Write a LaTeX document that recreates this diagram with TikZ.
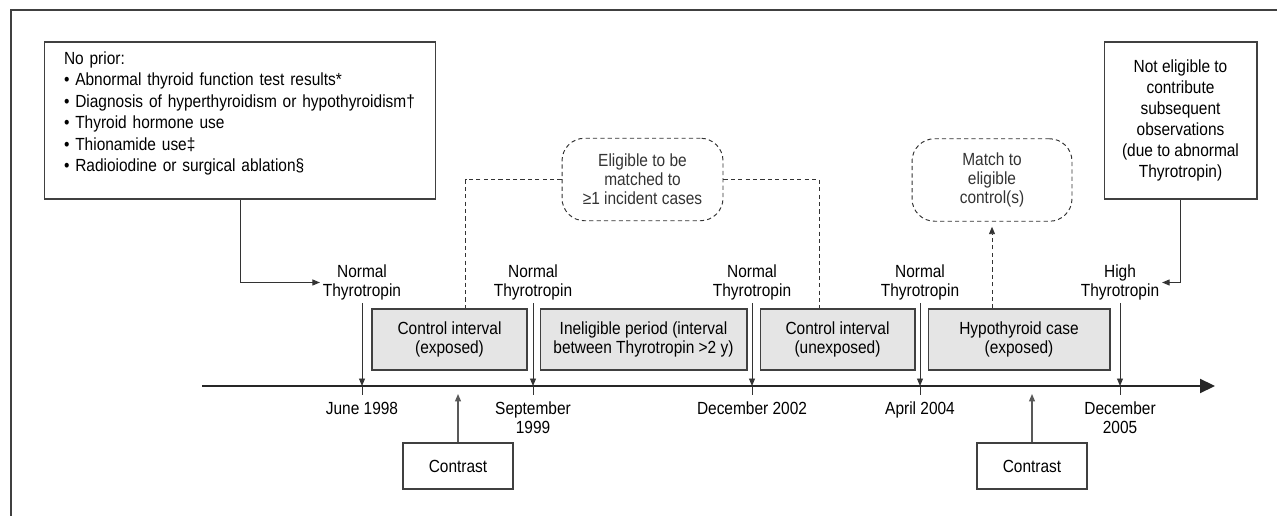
\documentclass[tikz,border=0pt]{standalone}
\usepackage{fontspec}
\setmainfont{Liberation Sans}[FakeStretch=0.88]
\usetikzlibrary{arrows.meta}

\tikzset{
  lbl/.style={align=center, inner sep=1.5pt, font=\fontsize{10pt}{10.8pt}\selectfont},
  plainbox/.style={draw=black!75, line width=0.6pt, inner sep=0pt, align=center,
    font=\fontsize{10pt}{10.8pt}\selectfont},
  greybox/.style={plainbox, fill=black!10, minimum width=3.1cm, minimum height=1.22cm},
  dashline/.style={black!80, line width=0.55pt, dash pattern=on 2.4pt off 1.8pt},
  dashbox/.style={plainbox, dashline, rounded corners=0.45cm, minimum height=1.65cm},
  arr/.style={-{Triangle[length=1.5mm,width=1.2mm]}, black!80, line width=0.55pt},
}

\begin{document}
\begin{tikzpicture}[x=0.02cm, y=-0.02cm]
\useasboundingbox (0,0) rectangle (1277,516);
\clip (0,0) rectangle (1277,516);
\draw[black!75, line width=0.9pt] (11,530) -- (11,10) -- (1290,10);

% top boxes
\node[plainbox, minimum width=7.84cm, minimum height=3.14cm, text width=7.04cm, align=left,
  font=\fontsize{10pt}{12.2pt}\selectfont] (noprior) at (240,120.5)
  {No prior:\\
   • Abnormal thyroid function test results*\\
   • Diagnosis of hyperthyroidism or hypothyroidism†\\
   • Thyroid hormone use\\
   • Thionamide use‡\\
   • Radioiodine or surgical ablation§\rule[-0.35cm]{0pt}{0pt}};
\node[plainbox, minimum width=3.06cm, minimum height=3.14cm,
  font=\fontsize{10pt}{12pt}\selectfont] (notelig) at (1180.5,120.5)
  {Not eligible to\\contribute\\subsequent\\observations\\(due to abnormal\\Thyrotropin)};

\node[dashbox, minimum width=3.22cm] (elig) at (642.5,179.5) {Eligible to be\\matched to\\≥1 incident cases};
\node[dashbox, minimum width=3.2cm] (match) at (992,180) {Match to\\eligible\\control(s)};

% time axis
\coordinate (axL) at (202,386);
\coordinate (axR) at (1215,386);
\draw[line width=1.2pt, black!85, -{Triangle[length=3mm,width=2.8mm]}] (axL) -- (axR);

% intervals
\node[greybox] (ctrlA) at (449.5,339.5) {Control interval\\(exposed)};
\node[greybox, minimum width=4.14cm] (inelig) at (643.5,339.5) {Ineligible period (interval\\between Thyrotropin >2 y)};
\node[greybox] (ctrlB) at (837.5,339.5) {Control interval\\(unexposed)};
\node[greybox, minimum width=3.64cm] (hypo) at (1019,339.5) {Hypothyroid case\\(exposed)};

% measurements
\foreach \x/\n/\t in {362/t1/Normal, 533/t2/Normal, 752/t3/Normal, 920/t4/Normal, 1120/t5/High}
  \node[lbl] (\n) at (\x,282.5) {\t\\Thyrotropin};

\node[lbl, anchor=north] (d1) at (362,399) {June 1998};
\node[lbl, anchor=north] (d2) at (533,399) {September\\1999};
\node[lbl, anchor=north] (d3) at (752,399) {December 2002};
\node[lbl, anchor=north] (d4) at (920,399) {April 2004};
\node[lbl, anchor=north] (d5) at (1120,399) {December\\2005};

\foreach \n in {t1,t2,t3,t4,t5}{
  \draw[arr] (\n.south) -- (\n.south |- axL);
  \draw[black!80, line width=0.55pt] (\n.south |- axL) -- ++(0,9);
}

% contrasts
\node[plainbox, minimum width=2.2cm, minimum height=0.92cm] (con1) at (458,466) {Contrast};
\node[plainbox, minimum width=2.2cm, minimum height=0.92cm] (con2) at (1032,466) {Contrast};
\draw[arr, black!65, line width=0.7pt, shorten >=0.16cm] (con1.north) -- (con1.north |- axL);
\draw[arr, black!65, line width=0.7pt, shorten >=0.16cm] (con2.north) -- (con2.north |- axL);

% connectors
\draw[arr] (noprior.south) |- (t1.west);
\draw[arr] (notelig.south) |- (t5.east);
\draw[dashline] (elig.west) -| ([xshift=0.32cm]ctrlA.north);
\draw[dashline] (elig.east) -| ([xshift=-0.37cm]ctrlB.north);
\draw[dashline, -{Triangle[length=1.5mm,width=1.2mm]}, shorten >=0.1cm] (hypo.north -| match.south) -- (match.south);

\end{tikzpicture}
\end{document}
